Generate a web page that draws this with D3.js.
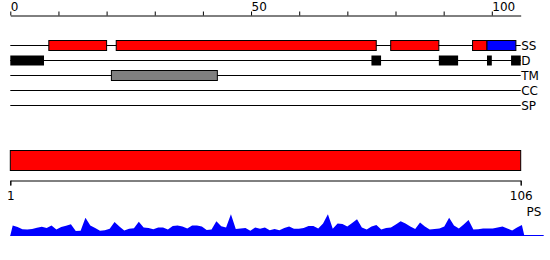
<!DOCTYPE html>
<html>
<head>
<meta charset="utf-8">
<script src="https://cdn.jsdelivr.net/npm/d3@7"></script>
<style>
  body { margin: 0; background: #fff; }
  text { font-family: "DejaVu Sans", sans-serif; }
</style>
</head>
<body>
<div id="chart"></div>
<script>
// Sequence length and track names
var seqLength = 106;
var tracks = ["SS", "D", "TM", "CC", "SP"];
var topTicks = [0, 10, 20, 30, 40, 50, 60, 70, 80, 90, 100];
var topLabels = [0, 50, 100];

// Secondary structure segments (start, end, type)
var ssStart = [8, 22, 79, 96, 99];
var ssEnd = [20, 76, 89, 99, 105];
var ssType = ["helix", "helix", "helix", "helix", "strand"];

// Disorder segments
var dStart = [0, 75, 89, 99, 104];
var dEnd = [7, 77, 93, 100, 106];

// Transmembrane segment
var tmStart = [21];
var tmEnd = [43];

// PS profile, one value per residue 1..106
var psValues = [10, 8.5, 6.2, 6, 6.5, 7.8, 8.7, 7.5, 10, 6,
    8.5, 9.6, 11.2, 4.5, 4.6, 17.5, 10, 7.5, 4.8, 5.3,
    6.7, 13.3, 9, 5, 6.8, 7.3, 13.5, 8, 7.4, 6.3,
    8, 8, 6, 9.5, 10, 9, 7, 10, 10, 9,
    5.5, 6, 14, 9.2, 8, 21, 6.5, 7, 7.5, 4.8,
    8, 6.7, 8, 5.3, 6.5, 5.2, 7.5, 9, 6.7, 6.7,
    7.5, 9.3, 9.5, 7, 12, 21, 6.7, 12, 11.5, 9,
    12.5, 16, 8, 6, 9, 10.5, 6, 7.5, 8, 11,
    14, 12, 9, 6.5, 13, 9, 6, 6.4, 7, 9,
    17.5, 10, 7, 11, 15.3, 6, 6.3, 7, 7, 7,
    8, 9, 7, 5, 8, 10.3];

var width = 550, height = 260;

var svg = d3.select("#chart")
    .append("svg")
    .attr("width", width)
    .attr("height", height);

var fillFor = { helix: "#ff0000", strand: "#0000ff" };

// X scale for the feature map
var x = d3.scaleLinear()
    .domain([0, seqLength])
    .range([10.3, 520.7]);

// Top ruler
var topAxis = svg.append("g")
    .attr("transform", "translate(0,15.5)")
    .call(d3.axisTop(x)
        .tickValues(topTicks)
        .tickSize(4)
        .tickSizeOuter(0)
        .tickFormat(function (d) { return topLabels.indexOf(d) >= 0 ? d : ""; }));
topAxis.select(".domain").attr("stroke", "#000");
topAxis.selectAll(".tick line").attr("stroke", "#000");
topAxis.selectAll(".tick text")
    .attr("text-anchor", "start")
    .attr("x", 0)
    .attr("y", -4.5)
    .attr("dy", null)
    .style("font-size", "12px")
    .attr("fill", "#000");

// Track rows
var y = d3.scalePoint()
    .domain(tracks)
    .range([45.5, 105.5]);

var rowH = 10;

svg.selectAll(".track")
    .data(tracks)
    .enter()
    .append("line")
    .attr("x1", x(0))
    .attr("x2", x(seqLength))
    .attr("y1", function (d) { return y(d); })
    .attr("y2", function (d) { return y(d); })
    .attr("stroke", "#000")
    .attr("stroke-width", 1);

svg.selectAll(".trackLabel")
    .data(tracks)
    .enter()
    .append("text")
    .attr("x", x(seqLength) + 0.5)
    .attr("y", function (d) { return y(d) + 4.5; })
    .style("font-size", "12px")
    .text(function (d) { return d; });

// Secondary structure
svg.selectAll(".ss")
    .data(d3.range(ssStart.length))
    .enter()
    .append("rect")
    .attr("x", function (i) { return x(ssStart[i]); })
    .attr("y", y("SS") - rowH / 2)
    .attr("width", function (i) { return x(ssEnd[i]) - x(ssStart[i]); })
    .attr("height", rowH)
    .attr("fill", function (i) { return fillFor[ssType[i]]; })
    .attr("stroke", "#000")
    .attr("stroke-width", 1);

// Disorder
svg.selectAll(".dis")
    .data(d3.range(dStart.length))
    .enter()
    .append("rect")
    .attr("x", function (i) { return x(dStart[i]); })
    .attr("y", y("D") - rowH / 2)
    .attr("width", function (i) { return x(dEnd[i]) - x(dStart[i]); })
    .attr("height", rowH)
    .attr("fill", "#000");

// Transmembrane
svg.selectAll(".tm")
    .data(d3.range(tmStart.length))
    .enter()
    .append("rect")
    .attr("x", function (i) { return x(tmStart[i]); })
    .attr("y", y("TM") - rowH / 2)
    .attr("width", function (i) { return x(tmEnd[i]) - x(tmStart[i]); })
    .attr("height", rowH)
    .attr("fill", "#808080")
    .attr("stroke", "#000")
    .attr("stroke-width", 1);

// Full-length bar
svg.append("rect")
    .attr("x", x(0))
    .attr("y", 150.5)
    .attr("width", x(seqLength) - x(0))
    .attr("height", 20)
    .attr("fill", "#ff0000")
    .attr("stroke", "#000")
    .attr("stroke-width", 1);

// Bottom ruler 1..106
var xb = d3.scaleLinear()
    .domain([1, seqLength])
    .range([10.3, 520.7]);
var botAxis = svg.append("g")
    .attr("transform", "translate(0,180.5)")
    .call(d3.axisBottom(xb)
        .tickValues([1, seqLength])
        .tickSize(5)
        .tickSizeOuter(5)
        .tickFormat(d3.format("d")));
botAxis.select(".domain").attr("stroke", "#000");
botAxis.selectAll(".tick line").attr("stroke", "#000");
botAxis.selectAll(".tick text")
    .attr("y", 19.5)
    .attr("dy", null)
    .style("font-size", "12px")
    .attr("fill", "#000");

svg.append("text")
    .attr("x", 526.5)
    .attr("y", 215.5)
    .style("font-size", "12px")
    .text("PS");

// PS profile
var xp = d3.scaleLinear()
    .domain([0, seqLength])
    .range([10.3, 524.3]);
var yp = d3.scaleLinear()
    .domain([0, 21.3])
    .range([235.5, 214]);

var profile = [{ pos: 0, v: 0 }]
    .concat(psValues.map(function (v, i) { return { pos: i + 0.5, v: v }; }))
    .concat([{ pos: seqLength, v: 0 }]);

svg.append("line")
    .attr("x1", xp(0))
    .attr("x2", xp(110))
    .attr("y1", yp(0))
    .attr("y2", yp(0))
    .attr("stroke", "#0000ff")
    .attr("stroke-width", 1);

svg.append("path")
    .datum(profile)
    .attr("fill", "#0000ff")
    .attr("d", d3.area()
        .x(function (d) { return xp(d.pos); })
        .y0(yp(0))
        .y1(function (d) { return yp(d.v); }));
</script>
</body>
</html>
